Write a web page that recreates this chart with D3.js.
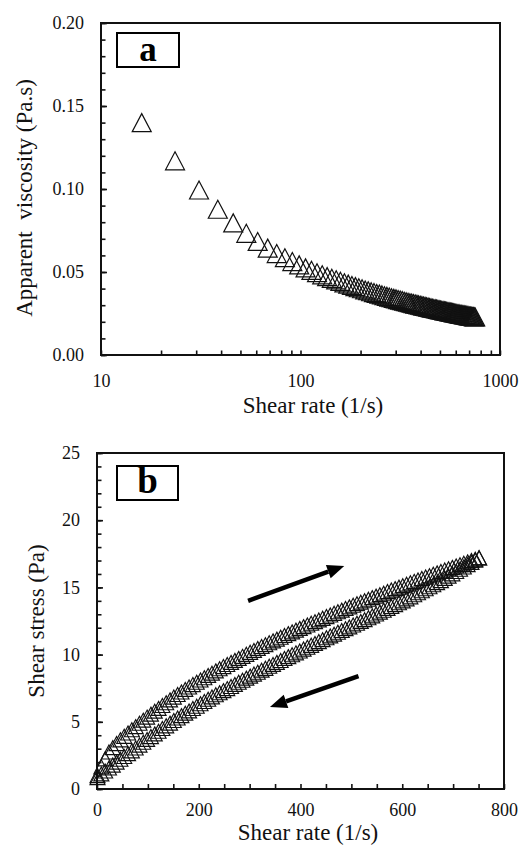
<!DOCTYPE html>
<html>
<head>
<meta charset="utf-8">
<script src="https://cdn.jsdelivr.net/npm/d3@7"></script>
<style>
  body { margin: 0; background: #fff; }
  svg text { font-family: "Liberation Serif", "Times New Roman", Tinos, "DejaVu Serif", serif; }
  .tick text { font-size: 18px; fill: #111; font-family: "Liberation Serif", "Times New Roman", Tinos, "DejaVu Serif", serif; }
  .tick line { stroke: #111; stroke-width: 1.6; }
  .axis-title { font-size: 23px; fill: #111; white-space: pre; }
</style>
</head>
<body>
<div id="wrapper"></div>
<script>
// shear rate ramp (1/s), same for the up and down sweep
const shearRate = [
  1, 8.5, 16, 23.5, 31, 38.5, 46, 53.5, 61, 68.5,
  76, 83.5, 91, 98.5, 106, 113.5, 121, 128.5, 136, 143.5,
  151, 158.5, 166, 173.5, 181, 188.5, 196, 203.5, 211, 218.5,
  226, 233.5, 241, 248.5, 256, 263.5, 271, 278.5, 286, 293.5,
  301, 308.5, 316, 323.5, 331, 338.5, 346, 353.5, 361, 368.5,
  376, 383.5, 391, 398.5, 406, 413.5, 421, 428.5, 436, 443.5,
  451, 458.5, 466, 473.5, 481, 488.5, 496, 503.5, 511, 518.5,
  526, 533.5, 541, 548.5, 556, 563.5, 571, 578.5, 586, 593.5,
  601, 608.5, 616, 623.5, 631, 638.5, 646, 653.5, 661, 668.5,
  676, 683.5, 691, 698.5, 706, 713.5, 721, 728.5, 736, 743.5,
  751,
];

// apparent viscosity (Pa.s), chart a
const viscosityUp = [
  1.0, 0.194, 0.14, 0.117, 0.0994, 0.0878, 0.0796, 0.0733, 0.0684, 0.0644,
  0.0611, 0.0586, 0.0563, 0.0543, 0.0525, 0.051, 0.0496, 0.0483, 0.0472, 0.0462,
  0.0453, 0.0444, 0.0435, 0.0427, 0.0419, 0.0412, 0.0405, 0.0399, 0.0392, 0.0387,
  0.0381, 0.0376, 0.0371, 0.0367, 0.0362, 0.0357, 0.0353, 0.0349, 0.0345, 0.0341,
  0.0338, 0.0334, 0.0331, 0.0328, 0.0324, 0.0321, 0.0318, 0.0315, 0.0313, 0.031,
  0.0307, 0.0305, 0.0302, 0.03, 0.0298, 0.0295, 0.0293, 0.0291, 0.0289, 0.0286,
  0.0284, 0.0282, 0.028, 0.0279, 0.0277, 0.0275, 0.0273, 0.0271, 0.027, 0.0268,
  0.0266, 0.0265, 0.0263, 0.0262, 0.026, 0.0259, 0.0257, 0.0256, 0.0254, 0.0253,
  0.0252, 0.025, 0.0249, 0.0248, 0.0246, 0.0245, 0.0244, 0.0243, 0.0242, 0.0241,
  0.024, 0.0238, 0.0237, 0.0236, 0.0235, 0.0234, 0.0233, 0.0232, 0.0231, 0.023,
  0.0229,
];

// shear stress (Pa), chart b, increasing ramp
const stressUp = [
  1.0, 1.65, 2.24, 2.75, 3.08, 3.38, 3.66, 3.92, 4.17, 4.41,
  4.64, 4.89, 5.12, 5.35, 5.57, 5.79, 6.0, 6.21, 6.42, 6.63,
  6.84, 7.03, 7.22, 7.41, 7.59, 7.77, 7.94, 8.11, 8.28, 8.45,
  8.62, 8.79, 8.95, 9.11, 9.26, 9.42, 9.57, 9.72, 9.87, 10.02,
  10.17, 10.31, 10.46, 10.6, 10.74, 10.88, 11.02, 11.15, 11.29, 11.42,
  11.56, 11.69, 11.82, 11.95, 12.08, 12.2, 12.33, 12.45, 12.58, 12.7,
  12.83, 12.95, 13.07, 13.19, 13.31, 13.43, 13.55, 13.67, 13.79, 13.9,
  14.01, 14.12, 14.24, 14.35, 14.46, 14.57, 14.69, 14.8, 14.91, 15.02,
  15.13, 15.24, 15.34, 15.45, 15.55, 15.66, 15.77, 15.87, 15.98, 16.08,
  16.19, 16.29, 16.39, 16.49, 16.59, 16.69, 16.8, 16.9, 17.0, 17.1,
  17.2,
];

// shear stress (Pa), chart b, decreasing ramp
const stressDown = [
  0.85, 1.12, 1.34, 1.56, 1.78, 2.0, 2.21, 2.42, 2.63, 2.84,
  3.05, 3.27, 3.48, 3.69, 3.9, 4.1, 4.3, 4.5, 4.7, 4.9,
  5.1, 5.28, 5.46, 5.64, 5.81, 5.99, 6.16, 6.34, 6.51, 6.68,
  6.85, 7.01, 7.16, 7.32, 7.47, 7.63, 7.78, 7.94, 8.09, 8.25,
  8.4, 8.55, 8.69, 8.84, 8.98, 9.13, 9.27, 9.42, 9.56, 9.71,
  9.85, 9.99, 10.13, 10.27, 10.41, 10.55, 10.69, 10.83, 10.97, 11.11,
  11.25, 11.39, 11.52, 11.66, 11.79, 11.93, 12.06, 12.2, 12.33, 12.47,
  12.6, 12.74, 12.88, 13.02, 13.16, 13.3, 13.44, 13.58, 13.72, 13.86,
  14.0, 14.15, 14.3, 14.45, 14.6, 14.75, 14.9, 15.05, 15.2, 15.35,
  15.5, 15.67, 15.84, 16.01, 16.18, 16.35, 16.52, 16.69, 16.86, 17.03,
  17.2,
];

// tick labels
const viscTicks = [0, 0.05, 0.1, 0.15, 0.2];
const logRateTicks = [10, 100, 1000];
const stressTicks = [0, 5, 10, 15, 20, 25];
const rateTicks = [0, 200, 400, 600, 800];

// direction arrows in chart b, [shear rate, stress] from -> to
const arrowForward = [[297, 14.0], [486, 16.6]];
const arrowBack = [[514, 8.4], [340, 6.1]];

function drawCharts() {
  const width = 525;
  const height = 845;

  const svg = d3
    .select("#wrapper")
    .append("svg")
    .attr("width", width)
    .attr("height", height)
    .style("display", "block");

  svg.append("rect").attr("width", width).attr("height", height).attr("fill", "#fff");

  // open triangle marker, centred on the point
  const triangle = (w, h) => `M0,${-h / 2}L${w / 2},${h / 2}L${-w / 2},${h / 2}Z`;

  const addTag = (x, y, w, h, label, baseline, size) => {
    svg
      .append("rect")
      .attr("x", x)
      .attr("y", y)
      .attr("width", w)
      .attr("height", h)
      .attr("fill", "#fff")
      .attr("stroke", "#000")
      .attr("stroke-width", 2);
    svg
      .append("text")
      .attr("x", x + w / 2)
      .attr("y", baseline)
      .attr("text-anchor", "middle")
      .style("font-size", size + "px")
      .style("font-weight", "bold")
      .text(label);
  };

  // ---------- chart a: viscosity vs shear rate (log x) ----------

  const xA = d3.scaleLog().domain([10, 1000]).range([101, 500]);
  const yA = d3.scaleLinear().domain([0, 0.2]).range([355, 23]);

  const gA = svg.append("g");

  gA.append("g")
    .attr("transform", `translate(0,${yA(0)})`)
    .call(
      d3.axisBottom(xA)
        .tickValues(xA.ticks())
        .tickSize(-4.5)
        .tickPadding(19)
        .tickFormat((d) => (logRateTicks.includes(d) ? d : ""))
    )
    .call((g) => g.select(".domain").remove());

  gA.append("g")
    .attr("transform", `translate(${xA(10)},0)`)
    .call(
      d3.axisLeft(yA)
        .tickValues(d3.range(0, 0.2001, 0.01))
        .tickSize(-4.5)
        .tickFormat("")
    )
    .call((g) => g.select(".domain").remove());

  gA.append("g")
    .attr("transform", `translate(${xA(10)},0)`)
    .call(
      d3.axisLeft(yA)
        .tickValues(viscTicks)
        .tickSize(-6)
        .tickPadding(17)
        .tickFormat(d3.format(".2f"))
    )
    .call((g) => g.select(".domain").remove());

  gA.append("rect")
    .attr("x", xA(10))
    .attr("y", yA(0.2))
    .attr("width", xA(1000) - xA(10))
    .attr("height", yA(0) - yA(0.2))
    .attr("fill", "none")
    .attr("stroke", "#111")
    .attr("stroke-width", 2);

  const pointsA = shearRate
    .map((g, i) => ({ x: g, y: viscosityUp[i] }))
    .filter((d) => d.x >= 10 && d.y <= 0.2);

  gA.append("g")
    .selectAll("path")
    .data(pointsA)
    .join("path")
    .attr("transform", (d) => `translate(${xA(d.x)},${yA(d.y)})`)
    .attr("d", triangle(19, 18))
    .attr("fill", "none")
    .attr("stroke", "#111")
    .attr("stroke-width", 1.2);

  gA.append("text")
    .attr("class", "axis-title")
    .attr("x", 313)
    .attr("y", 413)
    .attr("text-anchor", "middle")
    .text("Shear rate (1/s)");

  gA.append("text")
    .attr("class", "axis-title")
    .attr("transform", "translate(32,198) rotate(-90)")
    .attr("text-anchor", "middle")
    .text("Apparent  viscosity (Pa.s)");

  addTag(117, 33, 62, 34, "a", 61, 35);

  // ---------- chart b: shear stress vs shear rate ----------

  const xB = d3.scaleLinear().domain([0, 800]).range([97, 504]);
  const yB = d3.scaleLinear().domain([0, 25]).range([789, 453]);

  const gB = svg.append("g");

  gB.append("g")
    .attr("transform", `translate(0,${yB(0)})`)
    .call(
      d3.axisBottom(xB)
        .tickValues(d3.range(0, 801, 50))
        .tickSize(-5)
        .tickPadding(14)
        .tickFormat((d) => (rateTicks.includes(d) ? d : ""))
    )
    .call((g) => g.select(".domain").remove());

  gB.append("g")
    .attr("transform", `translate(${xB(0)},0)`)
    .call(
      d3.axisLeft(yB)
        .tickValues(d3.range(0, 25.01, 1))
        .tickSize(-4.5)
        .tickFormat("")
    )
    .call((g) => g.select(".domain").remove());

  gB.append("g")
    .attr("transform", `translate(${xB(0)},0)`)
    .call(
      d3.axisLeft(yB)
        .tickValues(stressTicks)
        .tickSize(-6)
        .tickPadding(17)
        .tickFormat(d3.format("d"))
    )
    .call((g) => g.select(".domain").remove());

  gB.append("rect")
    .attr("x", xB(0))
    .attr("y", yB(25))
    .attr("width", xB(800) - xB(0))
    .attr("height", yB(0) - yB(25))
    .attr("fill", "none")
    .attr("stroke", "#111")
    .attr("stroke-width", 2);

  const sweeps = [
    shearRate.map((g, i) => ({ x: g, y: stressUp[i] })),
    shearRate.map((g, i) => ({ x: g, y: stressDown[i] })).reverse(),
  ];

  sweeps.forEach((pts) => {
    gB.append("g")
      .selectAll("path")
      .data(pts)
      .join("path")
      .attr("transform", (d) => `translate(${xB(d.x)},${yB(d.y)})`)
      .attr("d", triangle(15, 14))
      .attr("fill", "none")
      .attr("stroke", "#111")
      .attr("stroke-width", 1.15);
  });

  const drawArrow = ([from, to]) => {
    const x1 = xB(from[0]);
    const y1 = yB(from[1]);
    const x2 = xB(to[0]);
    const y2 = yB(to[1]);
    const ang = Math.atan2(y2 - y1, x2 - x1);
    const len = 17;
    const half = 7;
    const bx = x2 - len * Math.cos(ang);
    const by = y2 - len * Math.sin(ang);
    gB.append("line")
      .attr("x1", x1)
      .attr("y1", y1)
      .attr("x2", bx)
      .attr("y2", by)
      .attr("stroke", "#000")
      .attr("stroke-width", 4.5);
    gB.append("path")
      .attr(
        "d",
        `M${x2},${y2}L${bx + half * Math.sin(ang)},${by - half * Math.cos(ang)}` +
          `L${bx - half * Math.sin(ang)},${by + half * Math.cos(ang)}Z`
      )
      .attr("fill", "#000");
  };
  drawArrow(arrowForward);
  drawArrow(arrowBack);

  gB.append("text")
    .attr("class", "axis-title")
    .attr("x", 308)
    .attr("y", 839.5)
    .attr("text-anchor", "middle")
    .text("Shear rate (1/s)");

  gB.append("text")
    .attr("class", "axis-title")
    .attr("transform", "translate(44,621) rotate(-90)")
    .attr("text-anchor", "middle")
    .text("Shear stress (Pa)");

  addTag(117, 466, 61, 34, "b", 493, 37);
}
drawCharts();
</script>
</body>
</html>
